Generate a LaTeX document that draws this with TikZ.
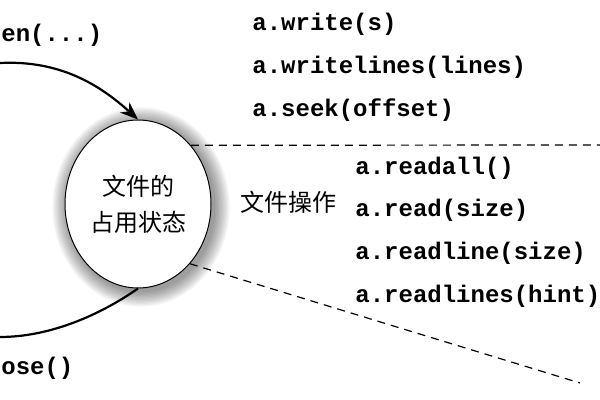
\documentclass[tikz,border=0pt]{standalone}
\usepackage{fontspec}
\setmonofont{Liberation Mono}
\newfontfamily\cjk{Noto Sans CJK SC}
\usetikzlibrary{arrows.meta,shapes.geometric}
\begin{document}
\begin{tikzpicture}[x=0.5pt,y=-0.5pt,
  code/.style={font=\ttfamily\bfseries\fontsize{12}{14}\selectfont, anchor=west, inner sep=0pt},
  cjktext/.style={font=\cjk\fontsize{12}{18}\selectfont, inner sep=0pt},
  conn/.style={line width=1.1pt, black},
  dline/.style={line width=0.6pt, dash pattern=on 4pt off 3pt},
  statebox/.style={ellipse, draw, line width=0.5pt, fill=white, minimum width=73pt, minimum height=84pt, inner sep=0pt, align=center, font=\cjk\fontsize{12}{18}\selectfont}]
\useasboundingbox (0,0) rectangle (600,400);
% soft shadow
\foreach \i in {1,...,12}{
  \fill[black, opacity=0.04] (141,207) ellipse ({(73+\i*1.3)*0.5pt} and {(84+\i*1.3)*0.5pt});
}
\node[statebox] (state) at (138,204) {文件的\\占用状态};
% texts
\node[code] (open) at (1,35) {en(...)};
\node[code] (close) at (1,368) {ose()};
\node[code] (w1) at (252,24) {a.write(s)};
\node[code] (w2) at (252,67) {a.writelines(lines)};
\node[code] (w3) at (252,110) {a.seek(offset)};
\node[code] (r1) at (355,168) {a.readall()};
\node[code] (r2) at (355,210) {a.read(size)};
\node[code] (r3) at (355,253) {a.readline(size)};
\node[code] (r4) at (355,296) {a.readlines(hint)};
\node[cjktext] (ops) at (288,202) {文件操作};
% connectors
\coordinate (ts) at (0,63);
\coordinate (be) at (0,337);
\coordinate (d1) at (600,145);
\coordinate (d2) at (580,383);
\draw[conn, -{Stealth[length=9pt,width=7pt]}] (ts) .. controls (60,60) and (100,85) .. (state.north);
\draw[conn] (state.south) .. controls (100,315) and (50,337) .. (be);
\draw[dline] (state.48) -- (d1);
\draw[dline] (state.-49) -- (d2);
\end{tikzpicture}
\end{document}
